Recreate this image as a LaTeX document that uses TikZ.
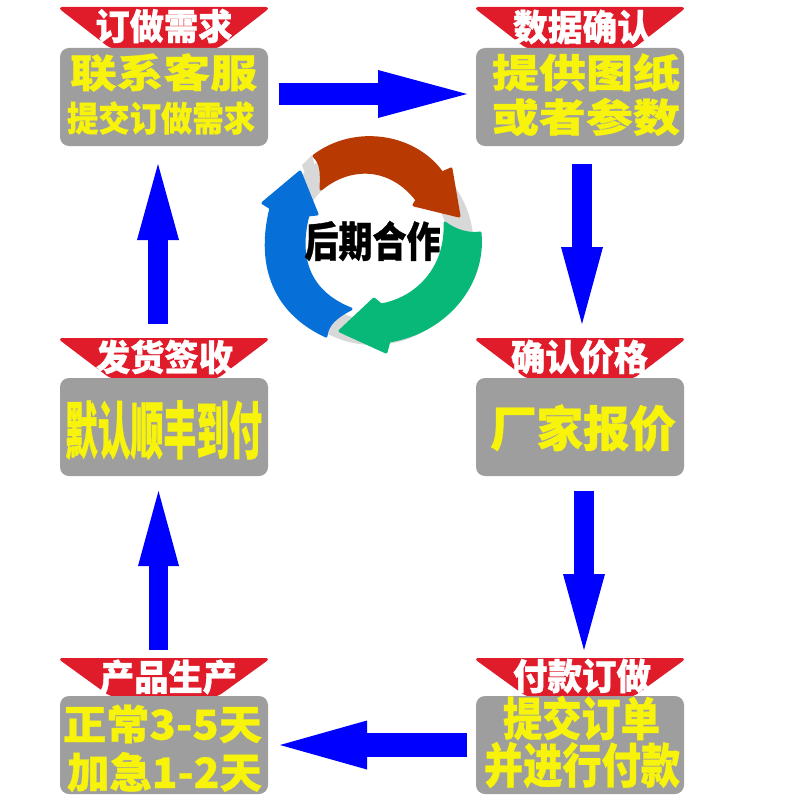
\documentclass[tikz,border=0pt]{standalone}
\usepackage{graphicx}
\usepackage{fontspec}
\usetikzlibrary{arrows.meta}
\newfontfamily\cjk[FakeBold=0.8]{Noto Sans CJK SC Black}
\definecolor{redb}{HTML}{E01B2A}
\definecolor{grayb}{HTML}{9E9E9E}
\definecolor{yel}{HTML}{F7F30A}
\definecolor{ringred}{HTML}{B83A02}
\definecolor{ringgreen}{HTML}{08B878}
\definecolor{ringblue}{HTML}{0670D8}
\definecolor{ringgray}{HTML}{D8D8D8}
\newcommand{\fitt}[3]{\resizebox{#1pt}{#2pt}{\cjk #3}}
\tikzset{
  card/.style={fill=grayb,rounded corners=9pt,draw=none},
  banner/.style={fill=redb,draw=none},
  lab/.style={inner sep=0pt,outer sep=0pt},
  ttl/.style={lab,text=white},
  body/.style={lab,text=yel},
  flow/.style n args={3}{line width=#1pt,draw=blue,-{Triangle[length=#2pt,width=#3pt,line width=0pt 0]}},
  ringpart/.style={line width=3pt,line join=round}
}
\newcommand{\cardat}[3]{%
  \path[banner,rounded corners=6pt] (#1-3,#2-#3) -- (#1+211,#2-#3) -- (#1+157,#2+1) -- (#1+51,#2+1) -- cycle;
  \fill[card] (#1,#2) rectangle ++(208,98);
}
\begin{document}
\begin{tikzpicture}[x=1pt,y=-1pt]
\useasboundingbox (0,0) rectangle (800,800);
\fill[white] (0,0) rectangle (800,800);
% cards
\cardat{60}{48}{41}
\cardat{476}{48}{41}
\cardat{60}{378}{40}
\cardat{476}{378}{40}
\cardat{60}{696}{38}
\cardat{476}{696}{38}
% titles
\node[ttl] (t1) at (164,26) {\fitt{137}{31}{订做需求}};
\node[ttl] (t2) at (582.5,27) {\fitt{139}{31}{数据确认}};
\node[ttl] (t3) at (579.5,357) {\fitt{137}{31}{确认价格}};
\node[ttl] (t4) at (164.5,357) {\fitt{137}{31}{发货签收}};
\node[ttl] (t5) at (168.5,677) {\fitt{137}{31}{产品生产}};
\node[ttl] (t6) at (582,676) {\fitt{138}{31}{付款订做}};
% body
\node[body] (b1a) at (163.5,72.5) {\fitt{187}{34}{联系客服}};
\node[body] (b1b) at (161,118) {\fitt{188}{30}{提交订做需求}};
\node[body] (b2a) at (586,72.5) {\fitt{188}{34}{提供图纸}};
\node[body] (b2b) at (586,117) {\fitt{188}{34}{或者参数}};
\node[body] (b3) at (583,428) {\fitt{186}{42}{厂家报价}};
\node[body] (b4) at (163.5,430) {\fitt{197}{53}{默认顺丰到付}};
\node[body] (b5a) at (162.5,724) {\fitt{199}{35}{正常3-5天}};
\node[body] (b5b) at (164.5,772) {\fitt{195}{36}{加急1-2天}};
\node[body] (b6a) at (581.5,718) {\fitt{157}{40}{提交订单}};
\node[body] (b6b) at (582,765) {\fitt{196}{41}{并进行付款}};
% flow arrows
\coordinate (a1s) at (279,94); \coordinate (a1e) at (467,94);
\coordinate (a2s) at (582,164); \coordinate (a2e) at (582,324);
\coordinate (a3s) at (584,491); \coordinate (a3e) at (584,650);
\coordinate (a4s) at (467,745); \coordinate (a4e) at (280,745);
\coordinate (a5s) at (158.5,650); \coordinate (a5e) at (158.5,491);
\coordinate (a6s) at (158,324); \coordinate (a6e) at (158,164);
\draw[flow={22}{89}{48}] (a1s) -- (a1e);
\draw[flow={20}{77}{42}] (a2s) -- (a2e);
\draw[flow={20}{76}{42}] (a3s) -- (a3e);
\draw[flow={24}{87}{49}] (a4s) -- (a4e);
\draw[flow={19}{75}{41}] (a5s) -- (a5e);
\draw[flow={20}{76}{42}] (a6s) -- (a6e);
% ring
\fill[ringgray,even odd rule] (373.5,245) circle[radius=100] (373.5,245) circle[radius=75];
\fill[ringgray] (302,165) -- (312,155) -- (321,190) -- (313,196) -- cycle;
\path[ringpart,fill=ringred,draw=ringred]
  (314,156) .. controls (321,163) and (322,170) .. (321,189)
  .. controls (350,165) and (390,165) .. (417,200)
  -- (414,205) -- (459,216) -- (451,169) -- (442,173)
  .. controls (415,135) and (355,125) .. cycle;
\path[ringpart,fill=ringgreen,draw=ringgreen]
  (480,233) .. controls (470,235) and (455,231) .. (445,223)
  .. controls (447,265) and (420,298) .. (381,305)
  -- (374,299) -- (340,331) -- (386,352) -- (389,341)
  .. controls (445,332) and (485,285) .. cycle;
\path[ringpart,fill=ringblue,draw=ringblue]
  (300,172) -- (263,203) -- (271,208)
  .. controls (258,260) and (270,310) .. (326,336)
  .. controls (327,325) and (335,317) .. (351,309)
  .. controls (315,295) and (295,265) .. (308,215)
  -- (317,214) -- cycle;
\node[lab,text=black] (c) at (372.5,241) {\fitt{136}{36}{后期合作}};
\end{tikzpicture}
\end{document}
